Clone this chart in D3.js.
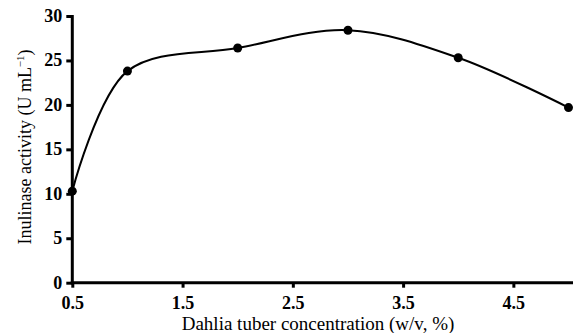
<!DOCTYPE html>
<meta charset="utf-8">
<style>
  body { margin: 0; background: white; }
</style>
<script src="https://d3js.org/d3.v7.min.js"></script>
<body>
<div id="chart"></div>
<script>
  // data
  const concentration = [0.5, 1, 2, 3, 4, 5];
  const activity = [10.3, 23.8, 26.4, 28.4, 25.3, 19.7];
  const xTicks = [0.5, 1.5, 2.5, 3.5, 4.5];
  const yTicks = [0, 5, 10, 15, 20, 25, 30];

  const serif = "Times New Roman, Liberation Serif, DejaVu Serif, serif";
  const width = 573, height = 333;
  const svg = d3.select("#chart").append("svg")
    .attr("width", width)
    .attr("height", height)
    .style("font-family", serif);

  const x = d3.scaleLinear().domain([0.5, 5]).range([72.3, 568.5]);
  const y = d3.scaleLinear().domain([0, 30]).range([282.7, 16]);

  // x axis
  const xAxis = svg.append("g")
    .attr("transform", "translate(0," + y(0) + ")")
    .call(d3.axisBottom(x).tickValues(xTicks).tickSize(5).tickSizeOuter(0).tickFormat(d3.format(".1f")));
  xAxis.attr("font-family", serif);
  xAxis.select(".domain").attr("d", "M" + (x(0.5) - 1.5) + ",0H573").attr("stroke-width", 3);
  xAxis.selectAll(".tick line").attr("stroke-width", 3);
  xAxis.selectAll(".tick text")
    .attr("y", 26)
    .attr("dy", 0)
    .attr("font-size", 18)
    .attr("font-weight", "bold")
    .attr("fill", "black");

  // y axis
  const yAxis = svg.append("g")
    .attr("transform", "translate(" + x(0.5) + ",0)")
    .call(d3.axisLeft(y).tickValues(yTicks).tickSize(6).tickSizeOuter(0));
  yAxis.attr("font-family", serif);
  yAxis.select(".domain").attr("d", "M0," + (y(30) - 1) + "V" + (y(0) + 1.5)).attr("stroke-width", 3);
  yAxis.selectAll(".tick line").attr("stroke-width", 3);
  yAxis.selectAll(".tick text")
    .attr("x", -10)
    .attr("dy", "0.3em")
    .attr("font-size", 18)
    .attr("font-weight", "bold")
    .attr("fill", "black");

  // curve
  const pts = concentration.map((c, i) => [c, activity[i]]);
  svg.append("path")
    .datum(pts)
    .attr("fill", "none")
    .attr("stroke", "black")
    .attr("stroke-width", 2)
    .attr("d", d3.line().x(d => x(d[0])).y(d => y(d[1])).curve(d3.curveCatmullRom.alpha(0.5)));

  svg.selectAll("circle.pt")
    .data(pts)
    .enter()
    .append("circle")
    .attr("class", "pt")
    .attr("cx", d => x(d[0]))
    .attr("cy", d => y(d[1]))
    .attr("r", 4.5)
    .attr("fill", "black");

  // axis titles
  svg.append("text")
    .attr("x", 318)
    .attr("y", 330)
    .attr("text-anchor", "middle")
    .attr("font-size", 19)
    .text("Dahlia tuber concentration (w/v, %)");

  const yt = svg.append("text")
    .attr("transform", "translate(31,147) rotate(-90)")
    .attr("text-anchor", "middle")
    .attr("font-size", 18);
  yt.append("tspan").text("Inulinase activity (U mL");
  yt.append("tspan").attr("dy", -7).attr("font-size", 11).text("\u22121");
  yt.append("tspan").attr("dy", 7).text(")");
</script>
</body>
